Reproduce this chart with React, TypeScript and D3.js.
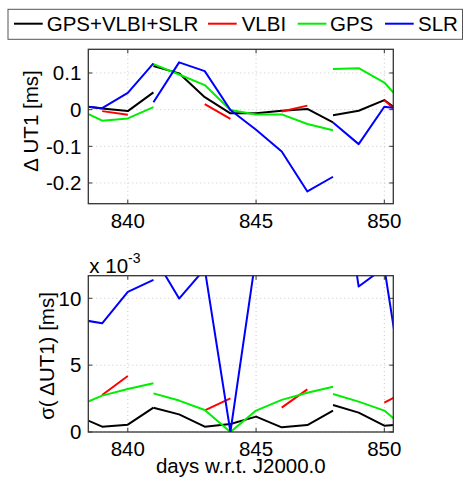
import React from "react";
import * as d3 from "d3";

// ---- data ----
const seg1Days = [838, 839, 840, 841];
const seg2Days = [841, 842, 843, 844, 845, 846, 847, 848];
const seg3Days = [848, 849, 850, 851];
const vlbiDays = [[839, 840], [843, 844], [846, 847], [850, 851]];

// ΔUT1 [ms]
const combDUT1 = [
  [0.012, 0.003, -0.004, 0.047],
  [0.119, 0.099, 0.034, -0.010, -0.010, -0.003, 0.002, -0.035],
  [-0.015, -0.003, 0.026, -0.025],
];
const vlbiDUT1 = [[-0.004, -0.014], [0.015, -0.025], [-0.005, 0.011], [0.026, -0.037]];
const gpsDUT1 = [
  [0.003, -0.030, -0.024, 0.007],
  [0.124, 0.096, 0.067, -0.001, -0.013, -0.013, -0.039, -0.056],
  [0.111, 0.113, 0.074, -0.003],
];
const slrDUT1 = [
  [0.011, 0.004, 0.046, 0.126],
  [0.020, 0.129, 0.105, -0.001, -0.055, -0.114, -0.223, -0.183],
  [-0.035, -0.094, 0.008, -0.002],
];

// σ(ΔUT1) [1e-3 ms]
const combSig = [
  [1.23, 0.40, 0.55, 1.82],
  [1.82, 1.32, 0.40, 0.60, 1.15, 0.35, 0.52, 1.60],
  [2.02, 1.45, 0.47, 0.60],
];
const vlbiSig = [[2.77, 4.19], [1.62, 2.52], [1.82, 3.19], [2.19, 3.19]];
const gpsSig = [
  [1.9, 2.72, 3.22, 3.64],
  [2.89, 2.35, 1.65, 0.0, 1.6, 2.4, 2.94, 3.39],
  [2.84, 2.27, 1.6, 0.0],
];
const slrSig = [
  [8.46, 8.13, 10.48, 11.38],
  [13.2, 9.98, 12.2, 0.0, 13.2, 14.0, 15.0, 14.0],
  [23.5, 10.88, 12.3, 0.0],
];

const xTicks = [840, 845, 850];
const yTicksTop = [0.1, 0, -0.1, -0.2];
const yTicksBot = [0, 5, 10];
const legendNames = ["GPS+VLBI+SLR", "VLBI", "GPS", "SLR"];
const colors = ["#000000", "#ff0000", "#00ee00", "#0000ff"];

const FONT = "'Liberation Sans', Arial, Helvetica, sans-serif";
const FS = 20.5;

const L = 88.3, R = 393.3;
const x = d3.scaleLinear().domain([838.46, 850.35]).range([L, R]);
const yTop = d3.scaleLinear().domain([-0.2565, 0.1646]).range([203.7, 49.3]);
const yBot = d3.scaleLinear().domain([0, 11.69]).range([432, 275.7]);

function seriesSegments(days: number[][], vals: number[][]) {
  return days.map((d, i) => d.map((dd, j) => [dd, vals[i][j]] as [number, number]));
}
const normalDays = [seg1Days, seg2Days, seg3Days];

function Panel({ y, ticks, fmt, clipId, series }: any) {
  const [y0, y1] = y.range();
  const line = d3.line<[number, number]>().x((d) => x(d[0])).y((d) => y(d[1]));
  return (
    <g>
      <defs>
        <clipPath id={clipId}>
          <rect x={L} y={y1} width={R - L} height={y0 - y1} />
        </clipPath>
      </defs>
      <rect x={L} y={y1} width={R - L} height={y0 - y1} fill="#fff" />
      {xTicks.map((t) => (
        <line key={"gx" + t} x1={x(t)} x2={x(t)} y1={y0} y2={y1} stroke="#c8c8c8" strokeWidth={1} strokeDasharray="1,3" />
      ))}
      {ticks.map((t: number) => (
        <line key={"gy" + t} x1={L} x2={R} y1={y(t)} y2={y(t)} stroke="#c8c8c8" strokeWidth={1} strokeDasharray="1,3" />
      ))}
      <g clipPath={`url(#${clipId})`}>
        {series.map((s: any, si: number) =>
          s.segs.map((seg: [number, number][], k: number) => (
            <path key={si + "-" + k} d={line(seg) || ""} fill="none" stroke={s.color} strokeWidth={2} strokeLinejoin="round" />
          ))
        )}
      </g>
      {xTicks.map((t) => (
        <g key={"tx" + t}>
          <line x1={x(t)} x2={x(t)} y1={y0} y2={y0 - 4} stroke="#333" />
          <line x1={x(t)} x2={x(t)} y1={y1} y2={y1 + 4} stroke="#333" />
        </g>
      ))}
      {ticks.map((t: number) => (
        <g key={"ty" + t}>
          <line x1={L} x2={L + 4} y1={y(t)} y2={y(t)} stroke="#333" />
          <line x1={R} x2={R - 4} y1={y(t)} y2={y(t)} stroke="#333" />
          <text x={L - 7} y={y(t) + 7.3} textAnchor="end" fontFamily={FONT} fontSize={FS} fill="#000">
            {fmt(t)}
          </text>
        </g>
      ))}
      <rect x={L} y={y1} width={R - L} height={y0 - y1} fill="none" stroke="#333" strokeWidth={1.3} />
      {xTicks.map((t) => (
        <text key={"lx" + t} x={x(t)} y={y0 + 24.3} textAnchor="middle" fontFamily={FONT} fontSize={FS} fill="#000">
          {t}
        </text>
      ))}
    </g>
  );
}

export default function App() {
  const topSeries = [
    { color: colors[0], segs: seriesSegments(normalDays, combDUT1) },
    { color: colors[1], segs: seriesSegments(vlbiDays, vlbiDUT1) },
    { color: colors[2], segs: seriesSegments(normalDays, gpsDUT1) },
    { color: colors[3], segs: seriesSegments(normalDays, slrDUT1) },
  ];
  const botSeries = [
    { color: colors[0], segs: seriesSegments(normalDays, combSig) },
    { color: colors[1], segs: seriesSegments(vlbiDays, vlbiSig) },
    { color: colors[2], segs: seriesSegments(normalDays, gpsSig) },
    { color: colors[3], segs: seriesSegments(normalDays, slrSig) },
  ];
  const legendLineX = [14, 208, 297.7, 385];
  const legendTextX = [46.7, 241.7, 330, 418];
  return (
    <svg width={464} height={479} style={{ position: "absolute", left: 0, top: 0, background: "#fff" }}>
      <rect x={0} y={0} width={464} height={479} fill="#fff" />
      <Panel y={yTop} ticks={yTicksTop} fmt={(t: number) => (t === 0 ? "0" : String(t))} clipId="clipTop" series={topSeries} />
      <Panel y={yBot} ticks={yTicksBot} fmt={(t: number) => String(t)} clipId="clipBot" series={botSeries} />
      <text transform="translate(37.5,121) rotate(-90)" textAnchor="middle" fontFamily={FONT} fontSize={FS} fill="#000">
        Δ UT1 [ms]
      </text>
      <text transform="translate(53.5,356) rotate(-90)" textAnchor="middle" fontFamily={FONT} fontSize={FS} fill="#000">
        σ( ΔUT1) [ms]
      </text>
      <text x={89.3} y={272.7} fontFamily={FONT} fontSize={FS} fill="#000">
        x 10<tspan dy={-10} fontSize={14}>-3</tspan>
      </text>
      <text x={(L + R) / 2} y={473} textAnchor="middle" fontFamily={FONT} fontSize={FS} fill="#000">
        days w.r.t. J2000.0
      </text>
      <rect x={8} y={9.3} width={454.5} height={30} fill="#fff" stroke="#555" strokeWidth={1} />
      {legendNames.map((n, i) => (
        <g key={n}>
          <line x1={legendLineX[i]} x2={legendLineX[i] + 28.7} y1={23.7} y2={23.7} stroke={colors[i]} strokeWidth={2} />
          <text x={legendTextX[i]} y={31} fontFamily={FONT} fontSize={FS} fill="#000">
            {n}
          </text>
        </g>
      ))}
    </svg>
  );
}
